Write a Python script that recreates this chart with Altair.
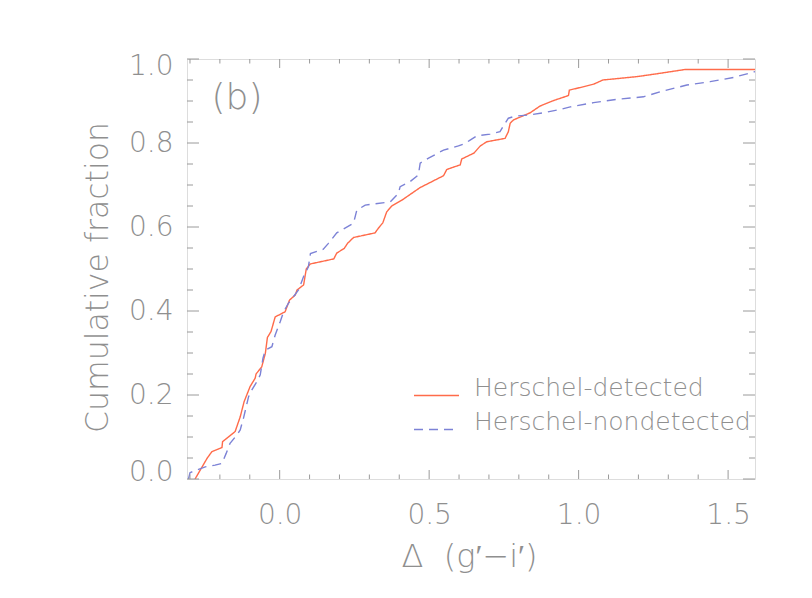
import altair as alt
import pandas as pd

# ---- data ----
red_x = [-0.283, -0.243, -0.227, -0.193, -0.191, -0.149, -0.132, -0.119, -0.099, -0.082,
         -0.079, -0.060, -0.048, -0.041, -0.029, -0.015, 0.018, 0.033, 0.052, 0.058,
         0.080, 0.089, 0.102, 0.181, 0.191, 0.216, 0.227, 0.247, 0.319, 0.330,
         0.345, 0.358, 0.375, 0.409, 0.470, 0.548, 0.559, 0.604, 0.609, 0.650,
         0.671, 0.693, 0.754, 0.765, 0.771, 0.782, 0.838, 0.871, 0.916, 0.966,
         0.969, 1.005, 1.050, 1.081, 1.195, 1.273, 1.356, 1.590]
red_y = [0.000, 0.049, 0.065, 0.075, 0.089, 0.113, 0.148, 0.184, 0.220, 0.240,
         0.250, 0.267, 0.299, 0.337, 0.351, 0.386, 0.398, 0.426, 0.438, 0.450,
         0.462, 0.500, 0.512, 0.524, 0.538, 0.549, 0.561, 0.575, 0.586, 0.597,
         0.610, 0.636, 0.650, 0.664, 0.694, 0.722, 0.737, 0.748, 0.762, 0.776,
         0.793, 0.803, 0.811, 0.827, 0.847, 0.855, 0.872, 0.888, 0.901, 0.913,
         0.926, 0.932, 0.940, 0.950, 0.958, 0.966, 0.975, 0.975]

blue_x = [-0.305, -0.300, -0.283, -0.249, -0.216, -0.193, -0.179, -0.166, -0.143, -0.132,
          -0.121, -0.112, -0.104, -0.093, -0.076, -0.065, -0.056, -0.048, -0.026, -0.015,
          0.002, 0.013, 0.029, 0.046, 0.063, 0.080, 0.096, 0.103, 0.146, 0.163,
          0.191, 0.247, 0.258, 0.286, 0.370, 0.397, 0.403, 0.436, 0.464, 0.470,
          0.498, 0.548, 0.598, 0.620, 0.637, 0.660, 0.704, 0.737, 0.754, 0.765,
          0.788, 0.838, 0.882, 0.933, 0.972, 1.050, 1.128, 1.217, 1.273, 1.362,
          1.440, 1.518, 1.590]
blue_y = [0.000, 0.015, 0.020, 0.029, 0.033, 0.037, 0.061, 0.085, 0.105, 0.117,
          0.145, 0.172, 0.196, 0.212, 0.232, 0.248, 0.287, 0.307, 0.315, 0.343,
          0.375, 0.398, 0.418, 0.434, 0.450, 0.482, 0.505, 0.537, 0.547, 0.561,
          0.586, 0.609, 0.640, 0.652, 0.660, 0.680, 0.696, 0.708, 0.724, 0.752,
          0.764, 0.783, 0.793, 0.799, 0.807, 0.817, 0.821, 0.827, 0.847, 0.859,
          0.864, 0.867, 0.872, 0.879, 0.886, 0.896, 0.904, 0.910, 0.922, 0.938,
          0.946, 0.956, 0.970]

series_names = ["Herschel-detected", "Herschel-nondetected"]
series_colors = ["#ff6b4a", "#7c82d6"]

x_major = [0.0, 0.5, 1.0, 1.5]
x_minor = [-0.3, -0.2, -0.1, 0.1, 0.2, 0.3, 0.4, 0.6, 0.7, 0.8, 0.9,
           1.1, 1.2, 1.3, 1.4]
y_major = [0.0, 0.2, 0.4, 0.6, 0.8, 1.0]
y_minor = [0.05, 0.1, 0.15, 0.25, 0.3, 0.35, 0.45, 0.5, 0.55, 0.65, 0.7, 0.75,
           0.85, 0.9, 0.95]

# ---- build tables ----
rows = []
for i, (a, b) in enumerate(zip(red_x, red_y)):
    rows.append({"x": a, "y": b, "series": series_names[0], "i": i})
for i, (a, b) in enumerate(zip(blue_x, blue_y)):
    rows.append({"x": a, "y": b, "series": series_names[1], "i": i})
df = pd.DataFrame(rows)

W, H = 568, 420
TXT = "#8f8f8f"
AX = "#9a9a9a"
FONT = "DejaVu Sans"

xscale = alt.Scale(domain=[-0.31, 1.59], nice=False, zero=False)
yscale = alt.Scale(domain=[0, 1], nice=False, zero=False)

xaxis = alt.Axis(values=x_major, format=".1f", ticks=False, tickSize=0,
                 domain=False, grid=False, labelPadding=22,
                 labelFontSize=28, labelColor=TXT, labelFont=FONT,
                 labelFontWeight=200,
                 title="Δ\u00a0\u00a0(g′−i′)", titleFontSize=32, titleColor=TXT,
                 titleFont=FONT, titleFontWeight=200,
                 titleX=282, titleY=77, titleAlign="center",
                 titleBaseline="middle")
yaxis = alt.Axis(values=y_major, format=".1f", ticks=False, tickSize=0,
                 domain=False, grid=False, labelPadding=14,
                 labelFontSize=28, labelColor=TXT, labelFont=FONT,
                 labelFontWeight=200, labelFlush=True, labelFlushOffset=7,
                 title="Cumulative fraction", titleFontSize=31.5,
                 titleColor=TXT, titleFont=FONT, titleFontWeight=200,
                 titleX=-89, titleY=218, titleAngle=270,
                 titleAlign="center", titleBaseline="middle")

lines = alt.Chart(df).mark_line(strokeWidth=1.4, clip=True).encode(
    x=alt.X("x:Q", scale=xscale, axis=xaxis),
    y=alt.Y("y:Q", scale=yscale, axis=yaxis),
    color=alt.Color("series:N",
                    scale=alt.Scale(domain=series_names, range=series_colors),
                    legend=alt.Legend(title=None, orient="none", legendX=226,
                                      legendY=313, symbolType="stroke",
                                      symbolSize=2025, symbolStrokeWidth=1.4,
                                      labelFontSize=25, labelColor=TXT,
                                      labelFont=FONT, labelFontWeight=200,
                                      labelOffset=14, labelBaseline="alphabetic",
                                      rowPadding=5, labelLimit=400)),
    strokeDash=alt.StrokeDash("series:N",
                              scale=alt.Scale(domain=series_names,
                                              range=[[1, 0], [9, 6]])),
    order=alt.Order("i:Q"),
)


def xticks(values, length):
    d = pd.DataFrame({"v": values})
    bottom = alt.Chart(d).mark_rule(color=AX, strokeWidth=1).encode(
        x=alt.X("v:Q", scale=xscale, axis=xaxis),
        y=alt.value(H), y2=alt.value(H - length))
    top = alt.Chart(d).mark_rule(color=AX, strokeWidth=1).encode(
        x=alt.X("v:Q", scale=xscale, axis=xaxis),
        y=alt.value(0), y2=alt.value(length))
    return [bottom, top]


def yticks(values, length):
    d = pd.DataFrame({"v": values})
    left = alt.Chart(d).mark_rule(color=AX, strokeWidth=1).encode(
        y=alt.Y("v:Q", scale=yscale, axis=yaxis),
        x=alt.value(0), x2=alt.value(length))
    right = alt.Chart(d).mark_rule(color=AX, strokeWidth=1).encode(
        y=alt.Y("v:Q", scale=yscale, axis=yaxis),
        x=alt.value(W), x2=alt.value(W - length))
    return [left, right]


panel_label = alt.Chart(pd.DataFrame({"t": ["(b)"]})).mark_text(
    fontSize=36, color=TXT, font=FONT, fontWeight=200, align="center",
    baseline="middle").encode(x=alt.value(50), y=alt.value(39), text="t:N")

layers = [lines] + xticks(x_major, 9) + xticks(x_minor, 4.5) \
    + yticks(y_major, 12) + yticks(y_minor, 6) + [panel_label]

chart = alt.layer(*layers).properties(
    width=W, height=H,
    autosize=alt.AutoSizeParams(type="none"),
    padding={"left": 179, "top": 51, "right": 49, "bottom": 111},
).configure_view(stroke=AX, strokeWidth=1).configure(background="white")

chart.save("out.html", embed_options={"renderer": "svg", "actions": False})
